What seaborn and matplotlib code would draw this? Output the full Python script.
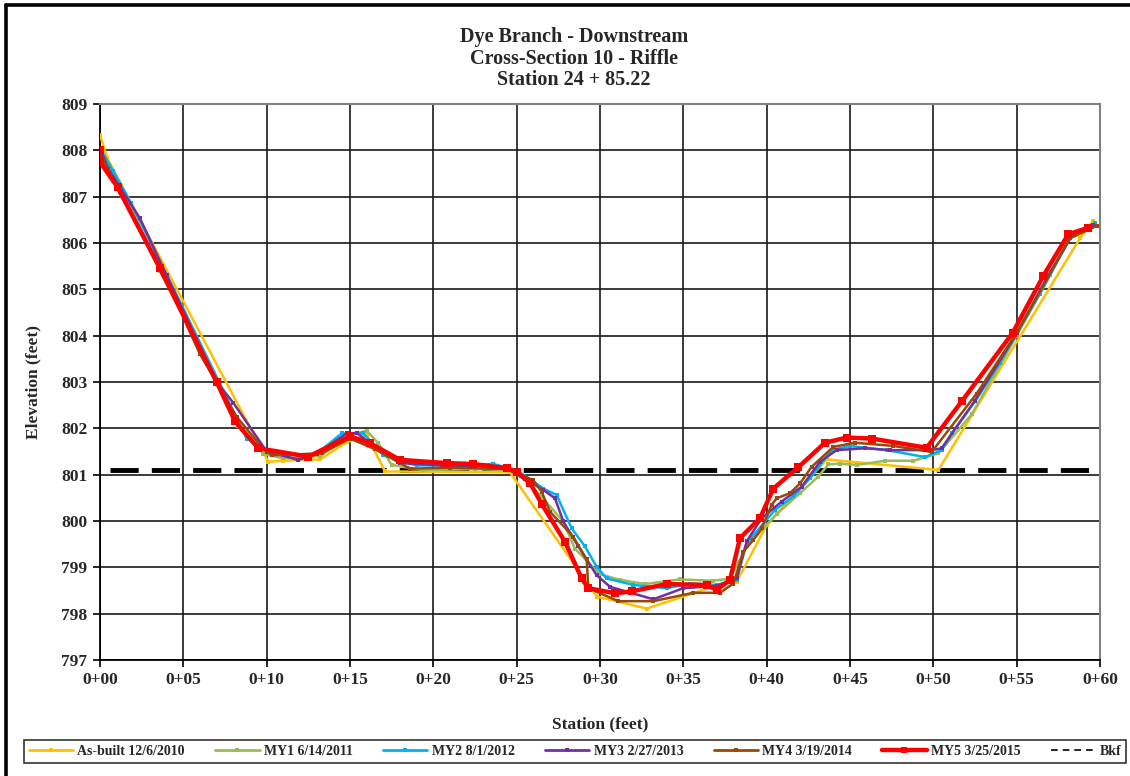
import matplotlib
matplotlib.use("Agg")
import matplotlib.pyplot as plt
from matplotlib.lines import Line2D
from matplotlib.ticker import FixedLocator, FuncFormatter
import seaborn as sns
import pandas as pd

sns.set_theme(style="white")
plt.rcParams['font.family'] = ['Liberation Serif', 'DejaVu Serif']
plt.rcParams['font.weight'] = 'bold'

# ---------------- data ----------------
asbuilt_x = [0, 0.44, 10.1, 11.0, 13.2, 14.8, 16.0, 17.1, 24.6, 29.8, 32.8, 35.6, 37.0, 38.2, 40.0, 43.6, 50.3, 58.8, 59.6]
asbuilt_y = [808.33, 807.83, 801.28, 801.3, 801.33, 801.7, 801.85, 801.07, 801.05, 798.37, 798.11, 798.44, 798.62, 798.69, 799.91, 801.33, 801.10, 806.1, 806.48]

my1_x = [0, 0.5, 1.5, 3.6, 7.0, 8.3, 9.8, 11.0, 12.5, 13.2, 15.0, 16.0, 16.7, 17.5, 19.4, 22.5, 24.5, 25.6, 27.8, 28.5, 30.0, 31.2, 32.7, 34.8, 36.8, 37.8, 38.8, 40.6, 42.0, 43.1, 43.7, 44.4, 45.4, 47.1, 48.8, 50.3, 52.3, 55.0, 57.0, 58.2, 59.5]
my1_y = [807.85, 807.65, 807.05, 805.4, 803.0, 802.05, 801.45, 801.35, 801.4, 801.4, 801.85, 801.95, 801.68, 801.21, 801.1, 801.12, 801.1, 800.88, 799.99, 799.4, 798.85, 798.73, 798.64, 798.74, 798.71, 798.76, 799.45, 800.15, 800.6, 800.96, 801.22, 801.24, 801.21, 801.3, 801.3, 801.46, 802.3, 804.0, 805.3, 806.15, 806.35]

my2_x = [0, 0.8, 1.86, 4.9, 8.8, 10.0, 11.8, 13.0, 14.5, 15.8, 17.0, 19.0, 21.0, 23.6, 25.0, 26.6, 27.4, 28.3, 29.1, 29.8, 30.4, 32.0, 34.0, 35.4, 37.0, 38.2, 38.8, 40.5, 41.6, 42.6, 43.9, 45.0, 47.2, 49.5, 50.5, 51.1, 52.5, 54.0, 56.4, 58.2, 59.7]
my2_y = [808.05, 807.55, 806.86, 804.66, 801.78, 801.53, 801.33, 801.45, 801.89, 801.89, 801.42, 801.2, 801.2, 801.23, 801.1, 800.7, 800.56, 799.84, 799.45, 799.01, 798.76, 798.62, 798.55, 798.65, 798.62, 798.73, 799.52, 800.24, 800.53, 800.92, 801.53, 801.62, 801.53, 801.38, 801.53, 801.89, 802.58, 803.42, 804.91, 806.1, 806.44]

my3_x = [0, 0.5, 2.4, 4.0, 7.0, 8.0, 10.0, 11.9, 13.0, 14.8, 15.4, 16.5, 18.0, 20.5, 23.0, 24.5, 25.5, 26.6, 27.3, 27.8, 28.7, 29.8, 30.6, 33.2, 35.0, 37.0, 38.2, 38.8, 39.7, 40.9, 42.1, 43.2, 44.2, 45.9, 47.4, 49.9, 50.5, 52.5, 55.0, 56.9, 58.3, 59.6]
my3_y = [808.05, 807.6, 806.53, 805.3, 803.0, 802.55, 801.5, 801.32, 801.45, 801.89, 801.9, 801.6, 801.25, 801.2, 801.18, 801.12, 800.9, 800.67, 800.49, 799.99, 799.45, 798.83, 798.58, 798.31, 798.55, 798.6, 798.76, 799.56, 800.06, 800.42, 800.74, 801.28, 801.53, 801.57, 801.53, 801.53, 801.57, 802.6, 804.05, 805.31, 806.15, 806.39]

my4_x = [0, 0.2, 1.2, 3.6, 6.0, 8.2, 9.8, 10.3, 13.3, 15.0, 16.5, 18.6, 21.0, 24.5, 26.0, 26.5, 27.0, 28.4, 29.2, 29.3, 31.1, 33.2, 35.6, 37.2, 38.0, 38.6, 39.2, 39.7, 40.3, 40.6, 41.4, 42.0, 42.7, 44.0, 45.3, 47.6, 49.9, 52.6, 55.1, 58.2, 59.8]
my4_y = [807.9, 807.79, 807.1, 805.5, 803.6, 802.25, 801.55, 801.42, 801.46, 801.78, 801.55, 801.13, 801.15, 801.12, 800.88, 800.63, 800.2, 799.66, 799.17, 798.55, 798.27, 798.27, 798.45, 798.45, 798.65, 799.34, 799.59, 799.84, 800.35, 800.49, 800.6, 800.81, 801.17, 801.6, 801.69, 801.62, 801.49, 802.75, 804.12, 806.1, 806.37]

my5_x = [0, 0, 1.06, 3.6, 7.0, 8.1, 9.5, 12.5, 15.0, 16.2, 18.0, 20.8, 22.4, 24.4, 25.0, 25.8, 26.5, 27.9, 28.9, 29.3, 30.9, 31.9, 34.0, 36.4, 37.0, 37.8, 38.4, 39.6, 40.4, 41.9, 43.5, 44.8, 46.3, 49.6, 51.7, 54.76, 56.6, 58.1, 59.3]
my5_y = [808.0, 807.75, 807.2, 805.45, 803.0, 802.15, 801.57, 801.39, 801.83, 801.68, 801.32, 801.25, 801.23, 801.14, 801.06, 800.82, 800.37, 799.55, 798.76, 798.55, 798.44, 798.48, 798.64, 798.62, 798.51, 798.73, 799.63, 800.06, 800.7, 801.16, 801.69, 801.8, 801.78, 801.58, 802.58, 804.06, 805.29, 806.19, 806.33]

bkf_x = [0.6, 60]
bkf_y = [801.1, 801.1]

series_names = ["As-built 12/6/2010", "MY1 6/14/2011", "MY2 8/1/2012",
                "MY3 2/27/2013", "MY4 3/19/2014", "MY5 3/25/2015"]
series_x = [asbuilt_x, my1_x, my2_x, my3_x, my4_x, my5_x]
series_y = [asbuilt_y, my1_y, my2_y, my3_y, my4_y, my5_y]
colors = ["#FFC000", "#9BBB59", "#00B0F0", "#7030A0", "#984807", "#FF0000"]

title_lines = ["Dye Branch - Downstream", "Cross-Section 10 - Riffle", "Station 24 + 85.22"]
x_ticks = list(range(0, 61, 5))
y_ticks = list(range(797, 810))

# ---------------- figure ----------------
fig = plt.figure(figsize=(11.3, 7.76), dpi=100)
ax = fig.add_axes([100/1130, 1-660/776, 1000/1130, 556/776])

for name, xs, ys, c in zip(series_names, series_x, series_y, colors):
    thick = name.startswith("MY5")
    df = pd.DataFrame({"x": xs, "y": ys})
    sns.lineplot(data=df, x="x", y="y", ax=ax, sort=False, estimator=None,
                 color=c, lw=3.2 if thick else 1.8, marker="s",
                 markersize=6 if thick else 3.5, markeredgewidth=0,
                 label=name, zorder=5 if thick else 3)

dfb = pd.DataFrame({"x": bkf_x, "y": bkf_y})
sns.lineplot(data=dfb, x="x", y="y", ax=ax, sort=False, estimator=None,
             color="black", lw=3.5, dashes=False, label="Bkf", zorder=2)
ax.lines[-1].set_dashes((5.8, 2.7))
ax.get_legend().remove()

ax.set_xlim(0, 60)
ax.set_ylim(797, 809)
ax.xaxis.set_major_locator(FixedLocator(x_ticks))
ax.yaxis.set_major_locator(FixedLocator(y_ticks))
ax.xaxis.set_major_formatter(FuncFormatter(lambda v, p: f"0+{int(v):02d}"))
ax.yaxis.set_major_formatter(FuncFormatter(lambda v, p: f"{int(v)}"))
ax.grid(True, color="#1a1a1a", lw=1.2)
ax.set_axisbelow(True)
ax.tick_params(axis="both", which="major", direction="out", length=5, width=1.2,
               color="black", labelsize=12.5, pad=4, bottom=True, left=True)
for lab in ax.get_xticklabels() + ax.get_yticklabels():
    lab.set_fontweight("bold")
for s in ["left", "bottom"]:
    ax.spines[s].set_color("black"); ax.spines[s].set_linewidth(1.3)
for s in ["top", "right"]:
    ax.spines[s].set_color("#808080"); ax.spines[s].set_linewidth(1.5)

ax.set_xlabel("Station (feet)", fontsize=12.5, fontweight="bold", labelpad=20)
ax.set_ylabel("Elevation (feet)", fontsize=12.5, fontweight="bold", labelpad=14)

for line, ypx in zip(title_lines, [42, 63.5, 85]):
    fig.text(574/1130, 1-ypx/776, line, ha="center", va="baseline",
             fontsize=14.5, fontweight="bold")

# legend handles (Excel style: short line with small marker, thin dashed Bkf)
handles = []
for name, c in zip(series_names, colors):
    thick = name.startswith("MY5")
    handles.append(Line2D([], [], color=c, lw=3.2 if thick else 2.0, marker="s",
                          markersize=5 if thick else 3, markeredgewidth=0))
handles.append(Line2D([], [], color="black", lw=1.2, dashes=(4, 3)))
labels = series_names + ["Bkf"]
leg = fig.legend(handles, labels, loc="lower left", ncol=7, mode="expand",
                 bbox_to_anchor=(24/1130, 1-763/776, 1102/1130, 26/776),
                 frameon=True, fancybox=False, fontsize=10, handlelength=3.2,
                 handletextpad=0.3, borderpad=0.35, borderaxespad=0)
leg.get_frame().set_edgecolor("black")
leg.get_frame().set_linewidth(1.2)
for t in leg.get_texts():
    t.set_fontweight("bold")

# outer frame (left & top)
fig.add_artist(Line2D([6/1130, 6/1130], [0, 1-5/776], transform=fig.transFigure, color="black", lw=2.6))
fig.add_artist(Line2D([6/1130, 1], [1-5/776, 1-5/776], transform=fig.transFigure, color="black", lw=2.6))

fig.savefig("out.png", dpi=100)
